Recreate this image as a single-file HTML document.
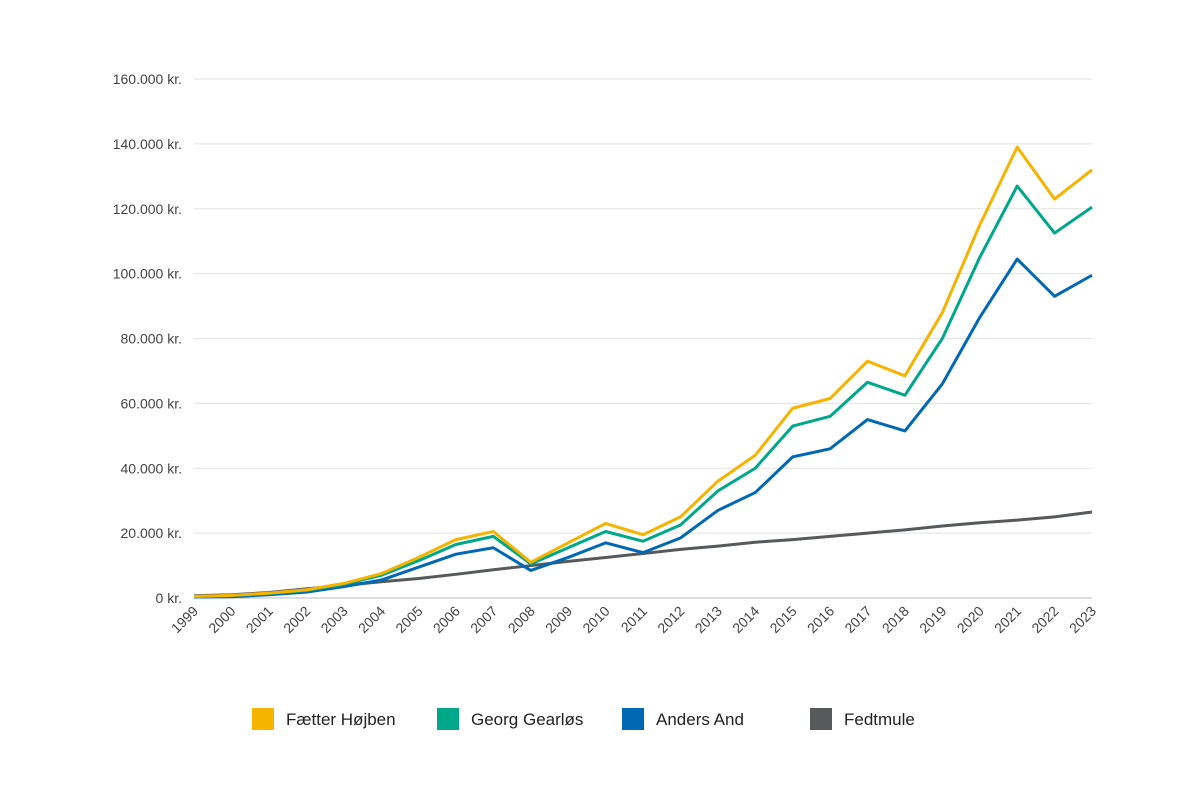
<!DOCTYPE html>
<html><head><meta charset="utf-8"><style>
html,body{margin:0;padding:0;background:#fff;}
svg{display:block;font-family:"Liberation Sans",sans-serif;}
</style></head><body>
<svg id="chart" width="1200" height="800">
<g id="grid"></g><g id="yaxis"></g><g id="xaxis"></g><g id="series"></g><g id="legend"></g>
</svg>
<script>
const years=[1999,2000,2001,2002,2003,2004,2005,2006,2007,2008,2009,2010,2011,2012,2013,2014,2015,2016,2017,2018,2019,2020,2021,2022,2023];
const faetter=[500,800,1500,2500,4500,7500,12500,18000,20500,11000,17000,23000,19500,25000,36000,44000,58500,61500,73000,68500,88000,115000,139000,123000,132000];
const georg=[500,700,1400,2300,4200,7000,11500,16500,19000,10500,15500,20500,17500,22500,33000,40000,53000,56000,66500,62500,80000,105000,127000,112500,120500];
const anders=[300,400,1000,1800,3500,5500,9500,13500,15500,8500,12500,17000,14000,18500,27000,32500,43500,46000,55000,51500,66000,86500,104500,93000,99500];
const fedtmule=[700,1000,1700,2800,3900,5000,6000,7300,8700,10000,11300,12500,13700,15000,16000,17200,18000,19000,20000,21000,22200,23200,24000,25000,26500];
const yTicks=[0,20000,40000,60000,80000,100000,120000,140000,160000];
const seriesNames=["Fætter Højben","Georg Gearløs","Anders And","Fedtmule"];
const colors=["#f6b300","#00a88a","#0068b4","#58595b"];
const NS="http://www.w3.org/2000/svg";
const X0=194,X1=1092,Y0=598,Y1=79,YMAX=160000;
const x=i=>X0+(X1-X0)*i/(years.length-1);
const y=v=>Y0-(Y0-Y1)*v/YMAX;
function mk(tag,attrs,parent){const e=document.createElementNS(NS,tag);for(const k in attrs)e.setAttribute(k,attrs[k]);parent.appendChild(e);return e;}
const fmt=v=>v.toLocaleString('de-DE')+" kr.";
const grid=document.getElementById('grid'),ya=document.getElementById('yaxis'),xa=document.getElementById('xaxis');
yTicks.forEach(t=>{
 const l=mk('line',{x1:X0,x2:X1,y1:y(t),y2:y(t),stroke:t===0?'#bbb':'#e3e3e3','stroke-width':1},grid);
 
 
 const tx=mk('text',{x:182,y:y(t)+5,'text-anchor':'end','font-size':14,fill:'#444'},ya);
 tx.textContent=fmt(t);
 
 
});
years.forEach((yr,i)=>{
 const tx=mk('text',{transform:`translate(${x(i)+5},${Y0+14}) rotate(-45)`,'text-anchor':'end','font-size':14,fill:'#444'},xa);
 tx.textContent=yr;
 
 
});
const sg=document.getElementById('series');
[fedtmule,anders,georg,faetter].forEach((d,k)=>{
 const idx=3-k;
 const p=mk('polyline',{points:d.map((v,i)=>x(i)+','+y(v)).join(' '),fill:'none',stroke:colors[idx],'stroke-width':3,'stroke-linejoin':'round'},sg);
 
 
});
const lg=document.getElementById('legend');
const lx=[252,437,622,810];
seriesNames.forEach((n,i)=>{
 const g=mk('g',{},lg);
 
 
 mk('rect',{x:lx[i],y:708,width:22,height:22,fill:colors[i]},g);
 const t=mk('text',{x:lx[i]+34,y:725,'font-size':17,fill:'#222'},g);
 t.textContent=n;
});
</script>
</body></html>
